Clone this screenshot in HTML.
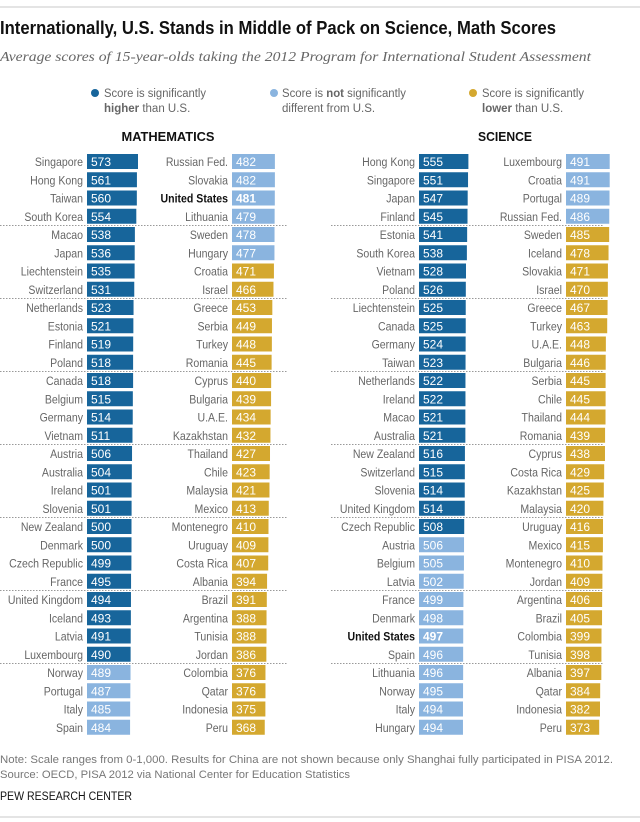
<!DOCTYPE html>
<html><head><meta charset="utf-8"><style>
html,body{margin:0;padding:0;background:#fff;}
svg{display:block;font-family:"Liberation Sans",sans-serif;}
</style></head><body>
<svg id="chart" width="640" height="822" viewBox="0 0 640 822" xmlns="http://www.w3.org/2000/svg">
<line x1="0" y1="7" x2="640" y2="7" stroke="#c8c8c8" stroke-width="1"/>
<text x="0" y="34" font-size="18" font-weight="bold" fill="#111" textLength="556" lengthAdjust="spacingAndGlyphs">Internationally, U.S. Stands in Middle of Pack on Science, Math Scores</text>
<text x="0" y="61" font-family="Liberation Serif,serif" font-style="italic" font-size="14" fill="#666" textLength="591" lengthAdjust="spacingAndGlyphs">Average scores of 15-year-olds taking the 2012 Program for International Student Assessment</text>
<g font-size="11.5" fill="#666">
 <g>
  <circle cx="95" cy="93" r="4" fill="#17659b"/>
  <text x="104" y="97" textLength="102" lengthAdjust="spacingAndGlyphs">Score is significantly</text>
  <text x="104" y="112"><tspan font-weight="bold">higher</tspan> than U.S.</text>
 </g>
 <g>
  <circle cx="274" cy="93" r="4" fill="#8ab4df"/>
  <text x="282" y="97" textLength="124" lengthAdjust="spacingAndGlyphs">Score is <tspan font-weight="bold">not</tspan> significantly</text>
  <text x="282" y="112">different from U.S.</text>
 </g>
 <g>
  <circle cx="473" cy="93" r="4" fill="#d4a82f"/>
  <text x="482" y="97" textLength="102" lengthAdjust="spacingAndGlyphs">Score is significantly</text>
  <text x="482" y="112"><tspan font-weight="bold">lower</tspan> than U.S.</text>
 </g>
</g>
<text x="168" y="141" text-anchor="middle" font-size="13" font-weight="bold" fill="#111" textLength="93" lengthAdjust="spacingAndGlyphs">MATHEMATICS</text>
<text x="505" y="141" text-anchor="middle" font-size="13" font-weight="bold" fill="#111" textLength="54" lengthAdjust="spacingAndGlyphs">SCIENCE</text>
<g id="rows"></g>
<text x="0" y="763" font-size="11" fill="#777" textLength="613" lengthAdjust="spacingAndGlyphs">Note: Scale ranges from 0-1,000. Results for China are not shown because only Shanghai fully participated in PISA 2012.</text>
<text x="0" y="778" font-size="11" fill="#777" textLength="350" lengthAdjust="spacingAndGlyphs">Source: OECD, PISA 2012 via National Center for Education Statistics</text>
<text x="0" y="800" font-size="11.5" fill="#111" textLength="132" lengthAdjust="spacingAndGlyphs">PEW RESEARCH CENTER</text>
<line x1="0" y1="817" x2="640" y2="817" stroke="#c8c8c8" stroke-width="1"/>
</svg>
<script>
const mathCol1Names = ["Singapore","Hong Kong","Taiwan","South Korea","Macao","Japan","Liechtenstein","Switzerland","Netherlands","Estonia","Finland","Poland","Canada","Belgium","Germany","Vietnam","Austria","Australia","Ireland","Slovenia","New Zealand","Denmark","Czech Republic","France","United Kingdom","Iceland","Latvia","Luxembourg","Norway","Portugal","Italy","Spain"];
const mathCol1Scores = [573,561,560,554,538,536,535,531,523,521,519,518,518,515,514,511,506,504,501,501,500,500,499,495,494,493,491,490,489,487,485,484];
const mathCol1Cats = "HHHHHHHHHHHHHHHHHHHHHHHHHHHHNNNN";
const mathCol2Names = ["Russian Fed.","Slovakia","United States","Lithuania","Sweden","Hungary","Croatia","Israel","Greece","Serbia","Turkey","Romania","Cyprus","Bulgaria","U.A.E.","Kazakhstan","Thailand","Chile","Malaysia","Mexico","Montenegro","Uruguay","Costa Rica","Albania","Brazil","Argentina","Tunisia","Jordan","Colombia","Qatar","Indonesia","Peru"];
const mathCol2Scores = [482,482,481,479,478,477,471,466,453,449,448,445,440,439,434,432,427,423,421,413,410,409,407,394,391,388,388,386,376,376,375,368];
const mathCol2Cats = "NNNNNNLLLLLLLLLLLLLLLLLLLLLLLLLL";
const sciCol1Names = ["Hong Kong","Singapore","Japan","Finland","Estonia","South Korea","Vietnam","Poland","Liechtenstein","Canada","Germany","Taiwan","Netherlands","Ireland","Macao","Australia","New Zealand","Switzerland","Slovenia","United Kingdom","Czech Republic","Austria","Belgium","Latvia","France","Denmark","United States","Spain","Lithuania","Norway","Italy","Hungary"];
const sciCol1Scores = [555,551,547,545,541,538,528,526,525,525,524,523,522,522,521,521,516,515,514,514,508,506,505,502,499,498,497,496,496,495,494,494];
const sciCol1Cats = "HHHHHHHHHHHHHHHHHHHHHNNNNNNNNNNN";
const sciCol2Names = ["Luxembourg","Croatia","Portugal","Russian Fed.","Sweden","Iceland","Slovakia","Israel","Greece","Turkey","U.A.E.","Bulgaria","Serbia","Chile","Thailand","Romania","Cyprus","Costa Rica","Kazakhstan","Malaysia","Uruguay","Mexico","Montenegro","Jordan","Argentina","Brazil","Colombia","Tunisia","Albania","Qatar","Indonesia","Peru"];
const sciCol2Scores = [491,491,489,486,485,478,471,470,467,463,448,446,445,445,444,439,438,429,425,420,416,415,410,409,406,405,399,398,397,384,382,373];
const sciCol2Cats = "NNNNLLLLLLLLLLLLLLLLLLLLLLLLLLLL";

const NS = "http://www.w3.org/2000/svg";
const colors = {H:"#17659b", N:"#8ab4df", L:"#d4a82f"};
const xScale = v => v * 0.089;
const yRow = i => 154 + i * 18.25;
const g = document.getElementById("rows");

function mk(tag, attrs){const e=document.createElementNS(NS,tag);for(const k in attrs)e.setAttribute(k,attrs[k]);return e;}

function drawCol(names, scores, cats, barX){
  for(let i=0;i<names.length;i++){
    const y=yRow(i);
    const isUS = names[i]==="United States";
    const lab=mk("text",{x:0,y:0,"text-anchor":"end","font-size":"12",fill:isUS?"#111":"#666","font-weight":isUS?"bold":"normal",transform:"translate("+(barX-4)+","+(y+12)+") scale(0.88,1)"});
    lab.textContent=names[i];
    
    
    g.appendChild(lab);
    const r=mk("rect",{x:barX,y:y,width:xScale(scores[i]),height:15,fill:colors[cats[i]]});
    
    
    g.appendChild(r);
    const t=mk("text",{x:barX+4,y:y+12,"font-size":"12",fill:"#fff","font-weight":isUS?"bold":"normal"});
    t.textContent=scores[i];
    
    
    g.appendChild(t);
  }
}
drawCol(mathCol1Names, mathCol1Scores, mathCol1Cats, 87);
drawCol(mathCol2Names, mathCol2Scores, mathCol2Cats, 232);
drawCol(sciCol1Names, sciCol1Scores, sciCol1Cats, 419);
drawCol(sciCol2Names, sciCol2Scores, sciCol2Cats, 566);

for(let k=1;k<8;k++){
  const y=yRow(k*4)-1.5;
  const l1=mk("line",{x1:0,x2:287,y1:y,y2:y,stroke:"#999","stroke-width":"1","stroke-dasharray":"1.5 1.5"});
  
  
  g.appendChild(l1);
  const l2=mk("line",{x1:331,x2:604,y1:y,y2:y,stroke:"#999","stroke-width":"1","stroke-dasharray":"1.5 1.5"});
  
  
  g.appendChild(l2);
}
</script>
</body></html>
